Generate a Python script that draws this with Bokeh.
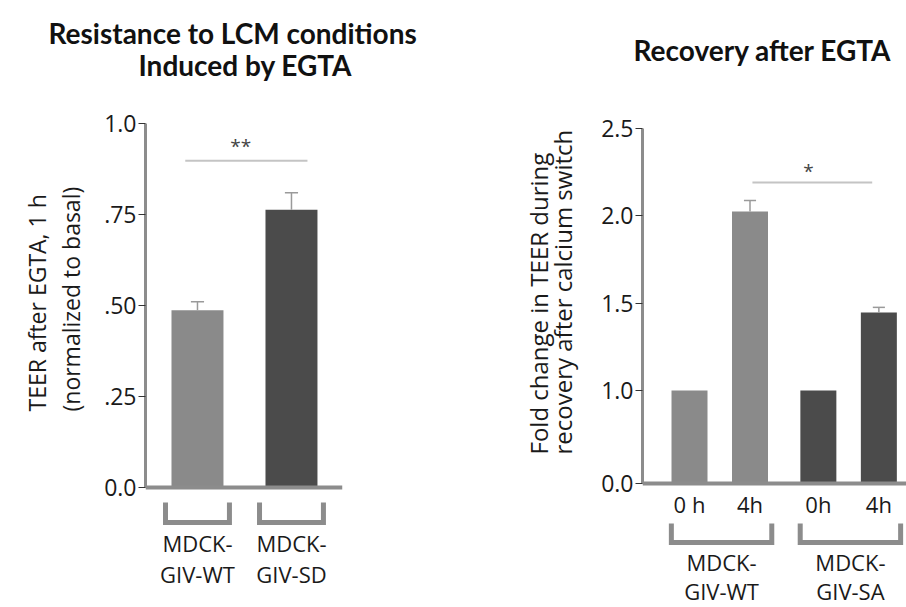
from bokeh.plotting import figure
from bokeh.layouts import row
from bokeh.models import FixedTicker, ColumnDataSource, Range1d, Title
from bokeh.embed import file_html
from bokeh.resources import INLINE
from bokeh.core.properties import value

# ---------------- data: left panel ----------------
left_title_lines = ["Resistance to LCM conditions", "Induced by EGTA"]
left_groups = ["MDCK-\nGIV-WT", "MDCK-\nGIV-SD"]
left_values = [0.487, 0.763]
left_errors = [0.023, 0.047]
left_colors = ["#8a8a8a", "#4b4b4b"]
left_ticks = [0.0, 0.25, 0.5, 0.75, 1.0]
left_tick_labels = ["0.0", ".25", ".50", ".75", "1.0"]
left_ylabel = "TEER after EGTA, 1 h\n(normalized to basal)"
left_sig_text = "**"
left_sig_level = 0.898

# ---------------- data: right panel ----------------
right_title = "Recovery after EGTA"
right_groups = ["MDCK-\nGIV-WT", "MDCK-\nGIV-SA"]
right_times = ["0 h", "4h", "0h", "4h"]
right_group_index = [0, 0, 1, 1]
right_sub_index = [0, 1, 0, 1]
right_values = [1.0, 2.025, 1.0, 1.446]
right_errors = [0.0, 0.063, 0.0, 0.030]
right_colors = ["#8a8a8a", "#8a8a8a", "#4b4b4b", "#4b4b4b"]
right_floor = 0.468          # broken axis: baseline drawn as "0.0"
right_ticks = [right_floor, 1.0, 1.5, 2.0, 2.5]
right_tick_labels = ["0.0", "1.0", "1.5", "2.0", "2.5"]
right_ylabel = "Fold change in TEER during\nrecovery after calcium switch"
right_sig_text = "*"
right_sig_level = 2.19

AXIS_GRAY = "#8c8c8c"
ERR_GRAY = "#9a9a9a"
SIG_GRAY = "#c4c4c4"
TXT = "#1a1a1a"
FONT = "Open Sans"
TITLE_FONT = "Lato"
H = 607
TOP = 81


def style_yaxis(p, ticks, labels, bounds):
    ax = p.yaxis[0]
    ax.ticker = FixedTicker(ticks=ticks)
    ax.major_label_overrides = {t: l for t, l in zip(ticks, labels)}
    ax.bounds = bounds
    ax.axis_line_width = 3
    ax.axis_line_color = AXIS_GRAY
    ax.major_tick_out = 7
    ax.major_tick_in = 0
    ax.major_tick_line_color = "#333333"
    ax.major_tick_line_width = 1
    ax.minor_tick_out = 0
    ax.minor_tick_in = 0
    ax.major_label_text_font = FONT
    ax.major_label_text_font_size = "23px"
    ax.major_label_text_color = TXT
    ax.major_label_standoff = 2


def ylabel_title(p, text, offset, standoff, line_h, size):
    p.add_layout(Title(text=text, align="left", offset=offset, standoff=standoff,
                       vertical_align="bottom", text_font=FONT, text_font_size=size,
                       text_font_style="normal", text_color=TXT, text_line_height=line_h),
                 "left")


def head_title(p, text, offset, standoff, line_h):
    p.add_layout(Title(text=text, align="left", offset=offset, standoff=standoff,
                       vertical_align="bottom", text_font=TITLE_FONT, text_font_size="28px",
                       text_font_style="bold", text_color="#111111", text_line_height=line_h),
                 "above")


def base_fig(width, border_left, xr, yr):
    p = figure(width=width, height=H, x_range=xr, y_range=yr,
               x_axis_location=None, y_axis_location="left",
               output_backend="svg", toolbar_location=None,
               min_border_left=border_left, min_border_right=0,
               min_border_top=TOP, min_border_bottom=0,
               outline_line_color=None, background_fill_color="white")
    p.grid.visible = False
    return p


# ================= left figure =================
lx = list(range(len(left_groups)))
p1 = base_fig(430, 145, Range1d(-0.553, 2.479), Range1d(-0.3297, 1.1154))
style_yaxis(p1, left_ticks, left_tick_labels, (0, 1))
ylabel_title(p1, left_ylabel, 196, 28, 1.087, "23px")
head_title(p1, left_title_lines[1], -7, 0, 0.9)
head_title(p1, left_title_lines[0], -97, -8, 0.9)

src1 = ColumnDataSource(dict(
    x=lx, top=left_values, err_top=[v + e for v, e in zip(left_values, left_errors)],
    color=left_colors, label=left_groups))
bw1 = 0.553
p1.vbar(x="x", top="top", bottom=0, width=bw1, fill_color="color", line_color=None, source=src1)
p1.segment(x0="x", y0="top", x1="x", y1="err_top", line_color=ERR_GRAY, line_width=1.5, source=src1)
cap1 = 0.07
p1.segment(x0=[x - cap1 for x in lx], y0=src1.data["err_top"], x1=[x + cap1 for x in lx],
           y1=src1.data["err_top"], line_color=ERR_GRAY, line_width=1.5)
# x axis line
p1.segment(x0=[p1.x_range.start], y0=[0], x1=[lx[-1] + 0.54], y1=[0],
           line_color=AXIS_GRAY, line_width=4)
# significance
p1.segment(x0=[lx[0] - 0.13], y0=[left_sig_level], x1=[lx[-1] + 0.17], y1=[left_sig_level],
           line_color=SIG_GRAY, line_width=2)
p1.text(x=[(lx[0] + lx[-1]) / 2 - 0.04], y=[left_sig_level + 0.04], text=[left_sig_text],
        text_font=value(FONT), text_font_size="19px", text_color="#444444",
        text_align="center", text_baseline="middle")
# brackets
bh1 = 0.34
p1.multi_line(xs=[[x - bh1, x - bh1, x + bh1, x + bh1] for x in lx],
              ys=[[-0.041, -0.096, -0.096, -0.041] for _ in lx],
              line_color=AXIS_GRAY, line_width=5, line_join="miter")
p1.text(x="x", y=-0.194, text="label", source=src1,
        text_font=value(FONT), text_font_size="22px", text_color=TXT,
        text_align="center", text_baseline="middle", text_line_height=1.04)

# ================= right figure =================
group_gap = 2.13
rx = [g * group_gap + s for g, s in zip(right_group_index, right_sub_index)]
p2 = base_fig(476, 212, Range1d(-0.777, 3.587), Range1d(-0.242, 2.7688))
style_yaxis(p2, right_ticks, right_tick_labels, (right_floor, 2.5))
ylabel_title(p2, right_ylabel, 153, 39, 0.72, "24px")
head_title(p2, right_title, -9, 30, 0.9)

src2 = ColumnDataSource(dict(
    x=rx, top=right_values, err_top=[v + e for v, e in zip(right_values, right_errors)],
    color=right_colors, label=right_times))
bw2 = 0.595
p2.vbar(x="x", top="top", bottom=right_floor, width=bw2, fill_color="color", line_color=None, source=src2)
has_err = [i for i, e in enumerate(right_errors) if e > 0]
ex = [rx[i] for i in has_err]
ey0 = [right_values[i] for i in has_err]
ey1 = [right_values[i] + right_errors[i] for i in has_err]
p2.segment(x0=ex, y0=ey0, x1=ex, y1=ey1, line_color=ERR_GRAY, line_width=1.5)
cap2 = 0.1
p2.segment(x0=[x - cap2 for x in ex], y0=ey1, x1=[x + cap2 for x in ex], y1=ey1,
           line_color=ERR_GRAY, line_width=1.5)
# x axis line
p2.segment(x0=[p2.x_range.start], y0=[right_floor], x1=[p2.x_range.end], y1=[right_floor],
           line_color=AXIS_GRAY, line_width=4)
# significance between the two 4h bars
s0, s1 = rx[1], rx[3]
p2.segment(x0=[s0 + 0.04], y0=[right_sig_level], x1=[s1 - 0.11], y1=[right_sig_level],
           line_color=SIG_GRAY, line_width=2)
p2.text(x=[(s0 + s1) / 2 - 0.1], y=[right_sig_level + 0.065], text=[right_sig_text],
        text_font=value(FONT), text_font_size="19px", text_color="#444444",
        text_align="center", text_baseline="middle")
# time labels
p2.text(x="x", y=0.353, text="label", source=src2,
        text_font=value(FONT), text_font_size="22px", text_color=TXT,
        text_align="center", text_baseline="middle")
# group brackets + labels
gx0, gx1 = [], []
for g in range(len(right_groups)):
    members = [rx[i] for i in range(len(rx)) if right_group_index[i] == g]
    gx0.append(min(members) - 0.3)
    gx1.append(max(members) + 0.36)
p2.multi_line(xs=[[a, a, b, b] for a, b in zip(gx0, gx1)],
              ys=[[0.239, 0.130, 0.130, 0.239] for _ in gx0],
              line_color=AXIS_GRAY, line_width=5, line_join="miter")
p2.text(x=[(a + b) / 2 for a, b in zip(gx0, gx1)], y=[-0.066] * len(gx0), text=right_groups,
        text_font=value(FONT), text_font_size="22px", text_color=TXT,
        text_align="center", text_baseline="middle", text_line_height=0.98)

layout = row(p1, p2, spacing=0)
open("out.html", "w").write(file_html(layout, INLINE))
